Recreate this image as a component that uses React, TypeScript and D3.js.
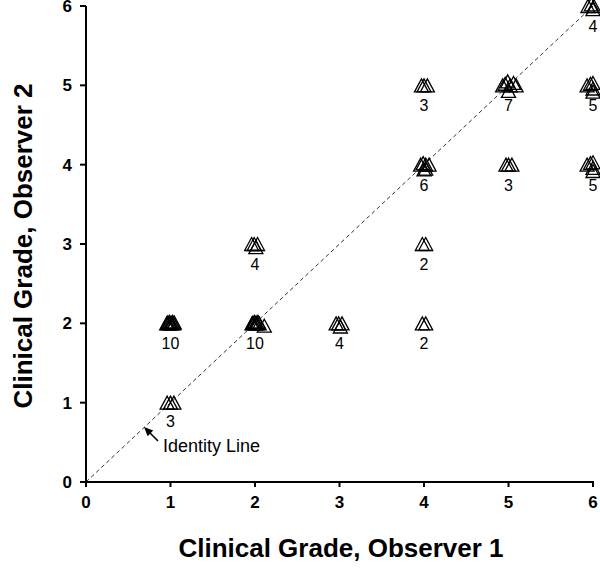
import React from "react";
import * as d3 from "d3";

// Jittered observations (Observer 1 grade, Observer 2 grade)
const obs1 = [
  // (1,1) x3
  0.96, 1.0, 1.04,
  // (1,2) x10
  0.955, 0.965, 0.975, 0.985, 0.995, 1.005, 1.015, 1.025, 1.035, 1.045,
  // (2,2) x10
  1.965, 1.975, 1.985, 1.995, 2.005, 2.015, 2.025, 2.035, 2.05, 2.11,
  // (2,3) x4
  1.96, 1.99, 2.03, 2.01,
  // (3,2) x4
  2.96, 2.99, 3.03, 3.01,
  // (4,2) x2
  3.98, 4.02,
  // (4,3) x2
  3.98, 4.02,
  // (4,4) x6
  3.96, 3.99, 4.02, 4.06, 4.0, 4.02,
  // (4,5) x3
  3.97, 4.0, 4.04,
  // (5,4) x3
  4.97, 5.0, 5.04,
  // (5,5) x7
  4.93, 4.96, 4.99, 5.02, 5.06, 5.09, 5.0,
  // (6,4) x5
  5.93, 5.97, 6.0, 6.0, 6.0,
  // (6,5) x5
  5.93, 5.97, 6.0, 6.0, 6.0,
  // (6,6) x4
  5.94, 5.98, 6.01, 6.0,
];
const obs2 = [
  1, 1, 1,
  2, 2.01, 2, 2.02, 2, 2.01, 2, 2.02, 2, 2.01,
  2, 2.01, 2, 2.02, 2, 2.01, 2, 2.02, 2, 1.97,
  3, 3, 3, 2.96,
  2, 2, 2, 1.96,
  2, 2,
  3, 3,
  4, 4.02, 4, 4, 3.94, 3.95,
  5, 5, 5,
  4, 4, 4,
  5, 5.02, 5.05, 5, 5.03, 5, 4.93,
  4, 4.02, 4.03, 3.96, 3.92,
  5, 5.02, 5.03, 4.96, 4.92,
  6, 6.02, 6, 5.96,
];

// Group counts shown below each cluster
const groupX = [1, 1, 2, 2, 3, 4, 4, 4, 4, 5, 5, 6, 6, 6];
const groupY = [1, 2, 2, 3, 2, 2, 3, 4, 5, 4, 5, 4, 5, 6];
const groupN = [3, 10, 10, 4, 4, 2, 2, 6, 3, 3, 7, 5, 5, 4];

const ticks = [0, 1, 2, 3, 4, 5, 6];

const W = 600;
const H = 569;
const M = { left: 86, top: 6, right: 7, bottom: 87 };

export default function App() {
  const x = d3.scaleLinear().domain([0, 6]).range([M.left, W - M.right]);
  const y = d3.scaleLinear().domain([0, 6]).range([H - M.bottom, M.top]);
  const tw = 14;
  const th = 13;
  const tri = `M0,${-th / 2}L${tw / 2},${th / 2}L${-tw / 2},${th / 2}Z`;
  const font = "Arial, 'Liberation Sans', Helvetica, sans-serif";
  const x0 = x(0);
  const y0 = y(0);
  const idLine = d3.line<number>()(
    [0, 6].map((v) => [x(v), y(v)] as [number, number])
  );
  return (
    <svg
      width={W}
      height={H}
      style={{ position: "absolute", left: 0, top: 0, background: "#fff" }}
      fontFamily={font}
    >
      <rect width={W} height={H} fill="#fff" />
      {/* identity line */}
      <path d={idLine || ""} stroke="#000" strokeWidth={0.8} strokeDasharray="4,3" fill="none" />
      {/* points */}
      {obs1.map((v, i) => (
        <path
          key={i}
          d={tri}
          transform={`translate(${x(v)},${y(obs2[i])})`}
          fill="none"
          stroke="#000"
          strokeWidth={1.3}
        />
      ))}
      {/* group counts */}
      {groupN.map((n, i) => (
        <text
          key={i}
          x={x(groupX[i])}
          y={y(groupY[i]) + (groupY[i] === 1 ? 24 : 26)}
          textAnchor="middle"
          fontSize={16}
          fill="#000"
        >
          {n}
        </text>
      ))}
      {/* Identity line annotation */}
      <line x1={158} y1={441} x2={149} y2={432} stroke="#000" strokeWidth={1.6} />
      <path d="M144,427 L153.2,430.6 L147.6,436.2 Z" fill="#000" />
      <text x={163} y={452} fontSize={18} fill="#000">
        Identity Line
      </text>
      {/* axes */}
      <line x1={x0} y1={y0} x2={x(6) + 1} y2={y0} stroke="#000" strokeWidth={2} />
      <line x1={x0} y1={y0 + 1} x2={x0} y2={y(6)} stroke="#000" strokeWidth={2} />
      {ticks.map((t) => (
        <g key={"xt" + t}>
          <line x1={x(t)} x2={x(t)} y1={y0} y2={y0 + 5} stroke="#000" strokeWidth={2} />
          <text x={x(t)} y={y0 + 26} textAnchor="middle" fontSize={17} fontWeight="bold" fill="#000">
            {t}
          </text>
        </g>
      ))}
      {ticks.map((t) => (
        <g key={"yt" + t}>
          <line x1={x0 - 6} x2={x0} y1={y(t)} y2={y(t)} stroke="#000" strokeWidth={2} />
          <text x={x0 - 14} y={y(t) + 6} textAnchor="end" fontSize={17} fontWeight="bold" fill="#000">
            {t}
          </text>
        </g>
      ))}
      <text x={341} y={557} textAnchor="middle" fontSize={26} fontWeight="bold" fill="#000">
        Clinical Grade, Observer 1
      </text>
      <text
        transform={`translate(32,246) rotate(-90)`}
        textAnchor="middle"
        fontSize={26}
        fontWeight="bold"
        fill="#000"
      >
        Clinical Grade, Observer 2
      </text>
    </svg>
  );
}
